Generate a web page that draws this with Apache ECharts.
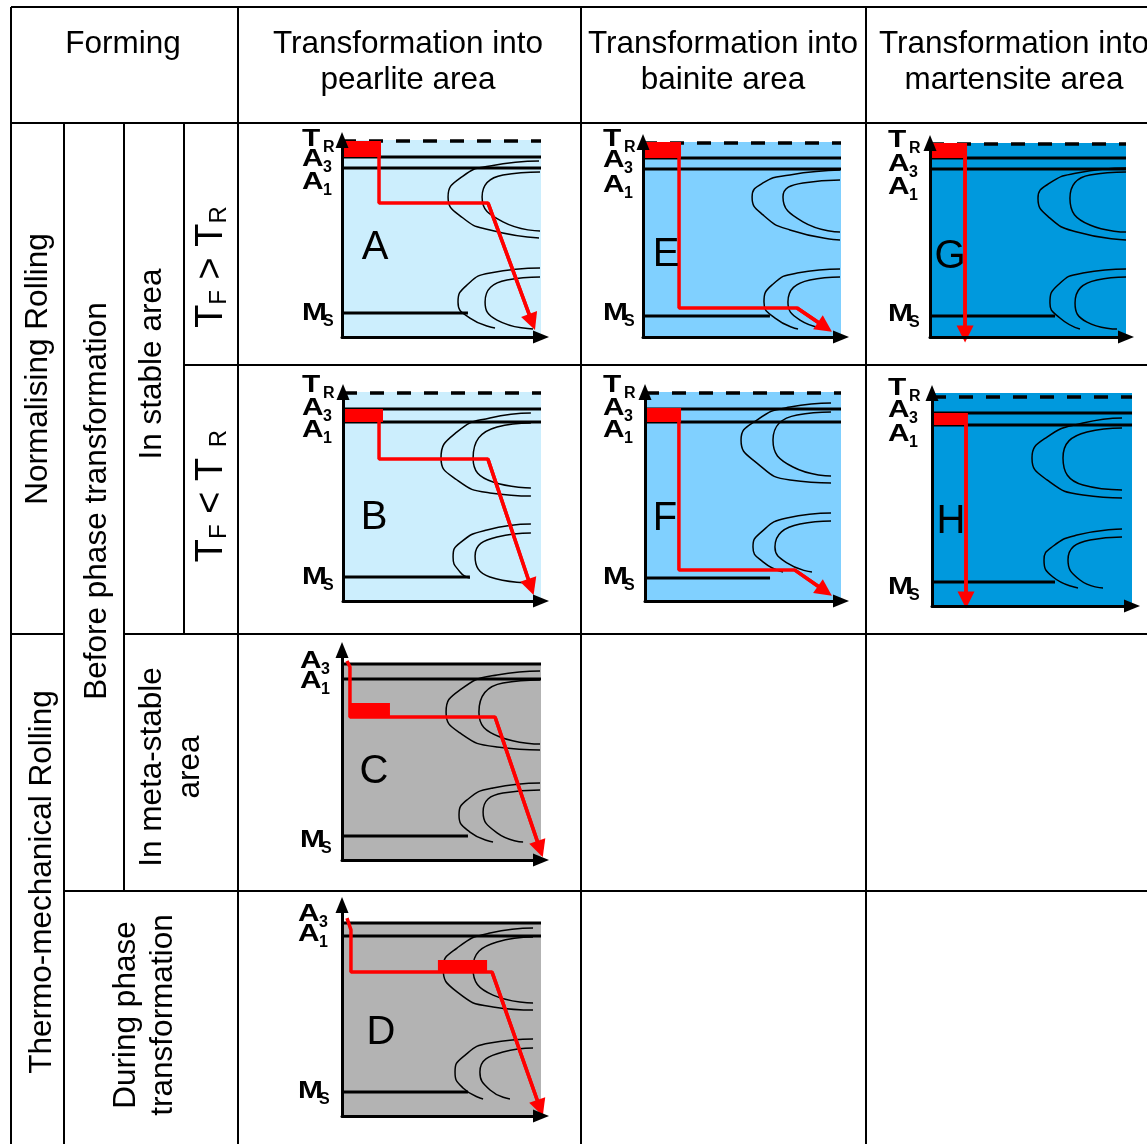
<!DOCTYPE html>
<html><head><meta charset="utf-8">
<script src="https://cdn.jsdelivr.net/npm/echarts@6/dist/echarts.min.js"></script>
<style>html,body{margin:0;padding:0;background:#fff;}#chart{width:1147px;height:1144px;}</style>
</head><body><div id="chart"></div>
<script>
// ================= DATA (each panel uses 0–100 units on both axes) =================
const panelIds = ['A','E','G','B','F','H','C','D'];
const columnHeaders = [['Forming'], ['Transformation into','pearlite area'], ['Transformation into','bainite area'], ['Transformation into','martensite area']];
const rowHeaders = ['Normalising Rolling','Thermo-mechanical Rolling','Before phase transformation','In stable area','In meta-stable\narea','During phase\ntransformation'];
const conditionHeaders = ['T{s|F} > T{s|R}', 'T{s|F} < T {s|R}'];
const levelNames = [['T','R'],['A','3'],['A','1'],['M','S']];

// levels: [T_R, A3, A1, Ms]
const A_levels = [99.5, 91.4, 85.8, 12.2];
const A_msEnd = 63.3, A_fillTop = 100;
const A_block = [0, 91.4, 19.6, 99.5];
const A_path = [[18.6,99.5],[18.6,68],[73.4,68],[95.5,7.6]];
const A_curves = [
  [[99,89.3],[74.4,86.8],[60.8,81.7],[53.3,71.1],[60.8,60.4],[74.4,54.3],[99,50.3]],
  [[99.5,83.8],[80.9,82.2],[70.4,71.1],[80.9,58.4],[99.5,53.8]],
  [[99.5,35],[74.4,32.5],[62.8,26.4],[58.3,17.8],[64.3,9.6],[76.9,4.6]],
  [[99.5,30.5],[82.9,28.9],[71.9,17.8],[77.9,8.6],[96,4.1]]
];

const E_levels = [99.5, 91.8, 86.2, 10.8];
const E_msEnd = 64.1, E_fillTop = 100;
const E_block = [0, 91.8, 19.2, 100];
const E_path = [[18.2,99.5],[18.2,14.9],[77.8,14.9],[91.9,5.1]];
const E_curves = [
  [[99.5,85.6],[74.2,83.1],[60.6,79],[55.1,71.8],[60.6,62.6],[74.2,54.9],[99.5,49.7]],
  [[99.5,80.5],[80.8,79],[70.7,71.8],[80.8,59],[99.5,53.8]],
  [[99.5,34.9],[77.8,32.8],[65.2,26.7],[61.1,17.9],[66.7,9.7],[78.3,4.1]],
  [[99.5,30.8],[84.3,29.2],[73.2,17.9],[79.3,8.7],[94.4,4.1]]
];

const G_levels = [99.5, 92.3, 86.6, 10.8];
const G_msEnd = 63.8, G_fillTop = 100;
const G_block = [0, 92.3, 18.9, 100];
const G_path = [[17.9,99.5],[17.9,1.5]];
const G_curves = [
  [[100,87.1],[75,84.5],[61.2,79.4],[55.1,71.5],[61.2,61.3],[75,54.1],[100,50]],
  [[100,85],[81.6,83.5],[71.4,71.5],[81.6,57.7],[100,54.1]],
  [[100,35.1],[78,33],[65.3,26.8],[61.2,17.5],[66.3,9.8],[76.5,4.1]],
  [[100,30.9],[85.2,29.4],[74,17.5],[80.1,7.7],[95.4,4.1]]
];

const B_levels = [99.5, 91.9, 85.6, 11.5];
const B_msEnd = 64.1, B_fillTop = 100;
const B_block = [0, 85.6, 20.2, 91.9];
const B_path = [[18.2,85.6],[18.2,67.9],[73.2,67.9],[94.9,6.7]];
const B_curves = [
  [[94.9,90],[74.2,87.6],[57.6,80.9],[49.5,68.4],[57.6,57.9],[74.2,51.7],[94.9,50.2]],
  [[94.9,85.2],[77.8,83.3],[65.7,68.4],[75.8,56.9],[94.9,54.1]],
  [[94.9,36.8],[72.7,34],[59.1,27.8],[55.6,21.1],[59.1,13.9],[64.1,11]],
  [[94.9,32.5],[77.8,30.6],[66.7,21.5],[74.2,11.5],[94.4,8.6]]
];

const F_levels = [99.5, 91.9, 85.6, 11];
const F_msEnd = 63.8, F_fillTop = 100;
const F_block = [0, 85.6, 18.4, 92.3];
const F_path = [[17.3,85.6],[17.3,14.8],[76.5,14.8],[91.8,4.8]];
const F_curves = [
  [[94.9,94.7],[74,92.8],[57.1,86.6],[49,77],[57.1,66],[74,57.9],[94.9,56.5]],
  [[94.9,90.4],[77.6,89],[65.3,77],[75.5,64.1],[94.9,59.8]],
  [[94.9,42.1],[72.4,39.7],[58.7,32.5],[55.1,25.8],[60.2,18.7],[70.4,13.9]],
  [[94.9,38.3],[79.1,36.8],[66.3,25.8],[72.4,18.2],[85.2,13.9]]
];

const H_levels = [98.1, 90.6, 85, 11.3];
const H_msEnd = 61.5, H_fillTop = 100;
const H_block = [0, 85, 17.5, 90.6];
const H_path = [[17,90.6],[17,2.8]];
const H_curves = [
  [[95,88.3],[75.5,85.9],[57.5,79.3],[50,69.5],[57.5,59.2],[75.5,52.1],[95,50.7]],
  [[95,83.6],[77.5,81.7],[65.5,69.5],[75.5,56.8],[95,54.5]],
  [[95,36.2],[72.5,33.3],[60,27.7],[56,21.6],[60.5,13.6],[73,8.5]],
  [[95,32.4],[79,31],[68,21.6],[74,12.2],[85.5,8.5]]
];

const C_levels = [null, 93.3, 86.2, 11.4];
const C_msEnd = 63.3, C_fillTop = 93.8;
const C_block = [4, 68.1, 24.1, 74.8];
const C_path = [[2.5,94.8],[4,91.9],[4,68.1],[76.9,68.1],[99.5,5.2]];
const C_curves = [
  [[99.5,90],[77.9,88.1],[59.3,81],[52.3,70.5],[59.3,60.5],[77.9,53.8],[99.5,52.4]],
  [[99.5,85.7],[80.9,84.3],[68.8,70.5],[79.4,58.6],[99.5,55.2]],
  [[99.5,36.7],[75.9,34.3],[62.8,28.6],[58.8,21.4],[64.3,13.3],[75.9,8.6]],
  [[99.5,33.3],[80.9,31.9],[70.9,22.9],[77.9,12.9],[91,8.6]]
];

const D_levels = [null, 91.5, 85.3, 11.4];
const D_msEnd = 63.3, D_fillTop = 91.5;
const D_block = [48.2, 68.2, 72.9, 73.9];
const D_path = [[2.5,93.8],[4.5,88.2],[4.5,68.2],[75.4,68.2],[99.5,3.8]];
const D_curves = [
  [[96,89.1],[74.4,86.7],[57.8,79.6],[50.8,70.1],[57.8,58.8],[75.9,51.7],[96,50.2]],
  [[96,84.8],[77.9,82.5],[65.8,70.1],[75.9,57.3],[96,53.6]],
  [[96,36.5],[74.4,34.6],[60.8,28],[56.8,20.9],[60.8,13.3],[70.9,8.1]],
  [[96,32.2],[80.9,30.3],[69.3,20.9],[74.4,12.3],[84.4,8.1]]
];

// ================= LAYOUT & STYLE =================
const FONT = '"Liberation Sans", Arial, Helvetica, sans-serif';
const COL_LIGHT = '#cceefd', COL_MID = '#80d0ff', COL_DARK = '#0099dd', COL_GRAY = '#b3b3b3';
const layout = {
  A:{rect:[342,140,199,197], fill:COL_LIGHT, labelX:302, labelY:[140,160,183,314], letter:[375,248]},
  E:{rect:[643,142,198,195], fill:COL_MID,   labelX:603, labelY:[140,161,186,314], letter:[666,255]},
  G:{rect:[930,143,196,194], fill:COL_DARK,  labelX:888, labelY:[141,165,188,315], letter:[950,257]},
  B:{rect:[343,392,198,209], fill:COL_LIGHT, labelX:302, labelY:[386,409,431,578], letter:[374,518]},
  F:{rect:[645,392,196,209], fill:COL_MID,   labelX:603, labelY:[386,409,431,578], letter:[665,519]},
  H:{rect:[932,393,200,213], fill:COL_DARK,  labelX:888, labelY:[389,411,435,588], letter:[951,522]},
  C:{rect:[342,650,199,210], fill:COL_GRAY,  labelX:300, labelY:[null,662,682,841], letter:[374,772]},
  D:{rect:[342,905,199,211], fill:COL_GRAY,  labelX:298, labelY:[null,915,935,1092], letter:[381,1033]}
};
const panelData = {
  A:{levels:A_levels, msEnd:A_msEnd, fillTop:A_fillTop, block:A_block, path:A_path, curves:A_curves},
  E:{levels:E_levels, msEnd:E_msEnd, fillTop:E_fillTop, block:E_block, path:E_path, curves:E_curves},
  G:{levels:G_levels, msEnd:G_msEnd, fillTop:G_fillTop, block:G_block, path:G_path, curves:G_curves},
  B:{levels:B_levels, msEnd:B_msEnd, fillTop:B_fillTop, block:B_block, path:B_path, curves:B_curves},
  F:{levels:F_levels, msEnd:F_msEnd, fillTop:F_fillTop, block:F_block, path:F_path, curves:F_curves},
  H:{levels:H_levels, msEnd:H_msEnd, fillTop:H_fillTop, block:H_block, path:H_path, curves:H_curves},
  C:{levels:C_levels, msEnd:C_msEnd, fillTop:C_fillTop, block:C_block, path:C_path, curves:C_curves},
  D:{levels:D_levels, msEnd:D_msEnd, fillTop:D_fillTop, block:D_block, path:D_path, curves:D_curves}
};

// ================= BUILD =================
const grids = [], xAxes = [], yAxes = [], series = [];
function rectRender(color){
  return function(params, api){
    const p0 = api.coord([api.value(0), api.value(1)]);
    const p1 = api.coord([api.value(2), api.value(3)]);
    return {type:'rect', shape:{x:Math.min(p0[0],p1[0]), y:Math.min(p0[1],p1[1]),
      width:Math.abs(p1[0]-p0[0]), height:Math.abs(p1[1]-p0[1])}, style:{fill:color}};
  };
}
panelIds.forEach((id, i) => {
  const L = layout[id], d = panelData[id];
  const [l,t,w,h] = L.rect;
  grids.push({left:l, top:t, width:w, height:h, containLabel:false});
  const axisBase = {gridIndex:i, type:'value', min:0, max:100, z:6,
    axisLine:{show:true, onZero:false, symbol:['none','triangle'], symbolSize:[13,16], lineStyle:{color:'#000', width:3}},
    axisTick:{show:false}, axisLabel:{show:false}, splitLine:{show:false}};
  xAxes.push(Object.assign({position:'bottom'}, axisBase));
  yAxes.push(Object.assign({position:'left'}, axisBase));
  const common = {xAxisIndex:i, yAxisIndex:i, silent:true, animation:false};
  // background fill
  series.push(Object.assign({type:'custom', z:1, renderItem:rectRender(L.fill),
    encode:{x:[0,2], y:[1,3]}, data:[[0,0,100,d.fillTop]]}, common));
  // C-curves
  d.curves.forEach(c => series.push(Object.assign({type:'line', z:2, data:c, smooth:0.55, symbol:'none',
    lineStyle:{color:'#000', width:1.5}}, common)));
  // temperature levels
  if (d.levels[0] != null) series.push(Object.assign({type:'line', z:3, data:[[0,d.levels[0]],[100,d.levels[0]]], symbol:'none',
    lineStyle:{color:'#000', width:3.5, type:[14,13]}}, common));
  [1,2].forEach(k => series.push(Object.assign({type:'line', z:3, data:[[0,d.levels[k]],[100,d.levels[k]]], symbol:'none',
    lineStyle:{color:'#000', width:3}}, common)));
  series.push(Object.assign({type:'line', z:3, data:[[0,d.levels[3]],[d.msEnd,d.levels[3]]], symbol:'none',
    lineStyle:{color:'#000', width:3}}, common));
  // red deformation block
  series.push(Object.assign({type:'custom', z:4, renderItem:rectRender('#ff0000'),
    encode:{x:[0,2], y:[1,3]}, data:[d.block]}, common));
  // red cooling path with arrow
  const n = d.path.length;
  series.push(Object.assign({type:'line', z:5, data:d.path, symbol:'none',
    lineStyle:{color:'#ff0000', width:3.5},
    markLine:{silent:true, animation:false, symbol:['none','triangle'], symbolSize:17, label:{show:false},
      lineStyle:{color:'#ff0000', width:3.5, type:'solid'},
      data:[[{coord:d.path[n-2]},{coord:d.path[n-1]}]]}}, common));
});

// ---- graphic: table, headers, labels ----
const G = [];
function line(x1,y1,x2,y2){ G.push({type:'line', silent:true, z:50, shape:{x1,y1,x2,y2}, style:{stroke:'#000', lineWidth:2}}); }
function text(x,y,str,font,extra){
  G.push(Object.assign({type:'text', silent:true, z:60, x, y,
    style:Object.assign({text:str, font, fill:'#000', align:'center', verticalAlign:'middle', textAlign:'center', textVerticalAlign:'middle'}, (extra&&extra.style)||{})},
    extra ? {rotation:extra.rotation||0, scaleX:extra.scaleX||1} : {}));
}
// table lines
[[11,7,1147,7],[11,123,1147,123],[184,365,1147,365],[11,634,64,634],[124,634,1147,634],[64,891,1147,891],
 [11,7,11,1144],[64,123,64,1144],[124,123,124,891],[184,123,184,634],[238,7,238,1144],[581,7,581,1144],[866,7,866,1144]]
 .forEach(s => line(...s));
const HF = 'normal 31.5px ' + FONT;
text(123, 44, columnHeaders[0][0], HF);
text(408, 44, columnHeaders[1][0], HF); text(408, 80, columnHeaders[1][1], HF);
text(723, 44, columnHeaders[2][0], HF); text(723, 80, columnHeaders[2][1], HF);
text(1014, 44, columnHeaders[3][0], HF); text(1014, 80, columnHeaders[3][1], HF);
const ROT = Math.PI/2;
text(38, 369, rowHeaders[0], HF, {rotation:ROT});
text(42, 882, rowHeaders[1], HF, {rotation:ROT});
text(97, 501, rowHeaders[2], HF, {rotation:ROT});
text(152, 364, rowHeaders[3], HF, {rotation:ROT});
text(171, 767, rowHeaders[4], HF, {rotation:ROT, style:{lineHeight:38}});
text(145, 1015, rowHeaders[5], HF, {rotation:ROT, style:{lineHeight:37}});
const richSub = {s:{fontSize:24, fontFamily:FONT, verticalAlign:'bottom', lineHeight:26}};
text(212, 267, conditionHeaders[0], 'normal 38px ' + FONT, {rotation:ROT, style:{rich:richSub}});
text(212, 496, conditionHeaders[1], 'normal 38px ' + FONT, {rotation:ROT, style:{rich:richSub}});
// panel labels
panelIds.forEach(id => {
  const L = layout[id];
  L.labelY.forEach((yc, k) => {
    if (yc == null) return;
    G.push({type:'text', silent:true, z:60, x:L.labelX, y:yc, scaleX:1.3,
      style:{text:levelNames[k][0], font:'bold 23px ' + FONT, fill:'#000', align:'left', verticalAlign:'middle', textAlign:'left', textVerticalAlign:'middle'}});
    G.push({type:'text', silent:true, z:60, x:L.labelX + 21, y:yc + 8,
      style:{text:levelNames[k][1], font:'bold 16px ' + FONT, fill:'#000', align:'left', verticalAlign:'middle', textAlign:'left', textVerticalAlign:'middle'}});
  });
  text(L.letter[0], L.letter[1], id, 'normal 40px ' + FONT);
});

const chart = echarts.init(document.getElementById('chart'));
chart.setOption({
  animation:false,
  backgroundColor:'#fff',
  grid:grids, xAxis:xAxes, yAxis:yAxes, series:series,
  graphic:{elements:G}
});
</script>
</body></html>
